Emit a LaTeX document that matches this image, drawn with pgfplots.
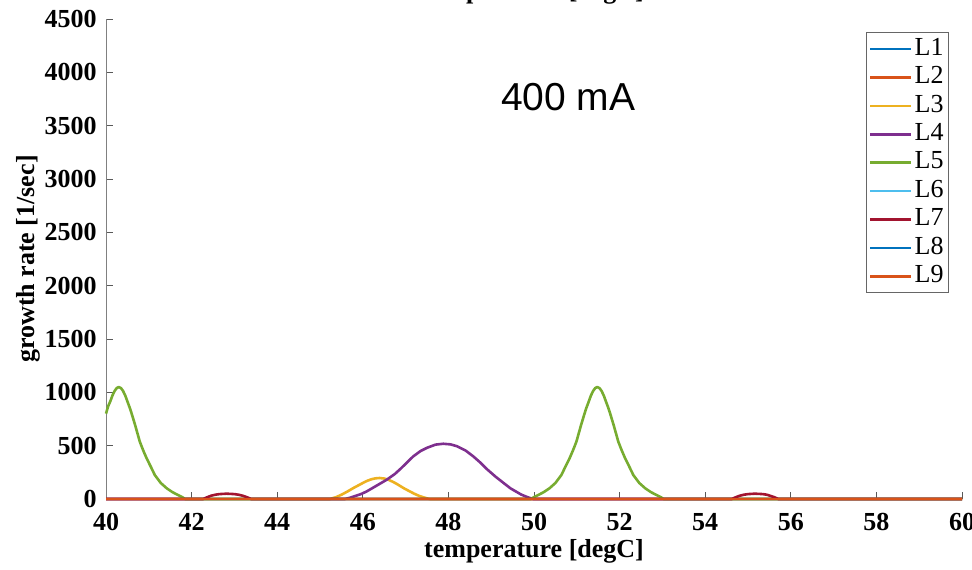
\documentclass[border=0pt]{standalone}
\usepackage{pgfplots}
\pgfplotsset{compat=1.18}
\usepackage{fontspec}
\setmainfont{Liberation Serif}
\newfontfamily\arialfont{Liberation Sans}

\definecolor{mA}{rgb}{0,0.447,0.741}
\definecolor{mB}{rgb}{0.85,0.325,0.098}
\definecolor{mC}{rgb}{0.929,0.694,0.125}
\definecolor{mD}{rgb}{0.494,0.184,0.556}
\definecolor{mE}{rgb}{0.466,0.674,0.188}
\definecolor{mF}{rgb}{0.301,0.745,0.933}
\definecolor{mG}{rgb}{0.635,0.078,0.184}

\begin{document}
\begin{tikzpicture}
\begin{axis}[
  at={(0pt,0pt)}, anchor=south west,
  width=428pt, height=240pt, scale only axis,
  xmin=40, xmax=60, ymin=0, ymax=4500,
  xtick={40,42,...,60},
  ytick={0,500,...,4500},
  axis x line*=bottom, axis y line*=left,
  axis line style={draw=black!50, -},
  tick align=inside,
  major tick length=3.5pt,
  tick style={black!65, line width=0.5pt},
  /pgf/number format/assume math mode=true,
  /pgf/number format/1000 sep={},
  tick label style={font=\fontsize{13}{15}\selectfont\bfseries},
  xticklabel style={anchor=base, yshift=-15.5pt},
  yticklabel style={anchor=east, inner sep=0pt, xshift=-4.5pt},
  label style={font=\fontsize{13}{15}\selectfont\bfseries},
  xlabel={temperature [degC]},
  xlabel style={at={(axis description cs:0.5,-0.121)}, anchor=base},
  ylabel={growth rate [1/sec]},
  ylabel style={at={(axis description cs:-0.091,0.5)}, anchor=center},
  title={temperature [degC]},
  title style={at={(axis description cs:0.5,1.018)}, anchor=base, yshift=0pt,
    font=\fontsize{13}{15}\selectfont\bfseries},
  clip=false,
  every axis plot/.append style={line width=1.3pt, line join=round},
  legend image code/.code={\draw[#1] (0pt,0pt) -- (20.5pt,0pt);},
  legend cell align=left,
  legend style={
    at={(axis description cs:0.9848,0.9729)}, anchor=north east,
    draw=black!60, line width=0.5pt, fill=white,
    inner xsep=1.5pt, inner ysep=1.2pt, row sep=0pt,
    font=\fontsize{13}{14.2}\selectfont,
    nodes={inner sep=1pt, text height=9.2pt, text depth=3pt}
  },
]
% L1
\addplot[mA] coordinates {(40,0) (60,0)};
% L2
\addplot[mB] coordinates {(40,0) (60,0)};
% L3
\addplot[mC] coordinates {(40,0) (45.23,0) (45.38,18) (45.5,40) (45.64,70) (45.78,103)
  (46.0,150) (46.1,170) (46.2,185) (46.3,194) (46.39,197) (46.5,192) (46.6,180)
  (46.7,162) (46.8,140) (46.95,103) (47.08,75) (47.2,50) (47.3,32) (47.4,18)
  (47.5,6) (47.57,0) (60,0)};
% L4
\addplot[mD] coordinates {(40,0) (45.58,0) (45.7,12) (45.8,25) (45.95,45) (46.09,71)
  (46.3,120) (46.56,181) (46.75,235) (46.9,290) (47.05,350) (47.18,400) (47.35,450)
  (47.5,480) (47.7,510) (47.88,518) (48.05,512) (48.2,495) (48.4,455) (48.58,400)
  (48.75,340) (48.9,280) (49.1,210) (49.29,150) (49.45,100) (49.6,65) (49.7,42)
  (49.8,25) (49.9,10) (49.98,0) (60,0)};
% L5
\addplot[mE] coordinates {(40,800) (40.05,870) (40.1,915) (40.15,970) (40.2,1012)
  (40.25,1040) (40.3,1050) (40.35,1040) (40.4,1012) (40.45,970) (40.5,915)
  (40.56,850) (40.6,800) (40.68,694) (40.79,537) (40.87,455) (40.95,381)
  (41.05,300) (41.14,225) (41.28,150) (41.42,100) (41.55,65) (41.65,44) (41.78,18)
  (41.85,0) (49.93,0) (50.0,18) (50.13,44) (50.23,65) (50.36,100) (50.5,150)
  (50.64,225) (50.73,300) (50.83,381) (50.91,455) (50.99,537) (51.1,694) (51.18,800)
  (51.22,850) (51.28,915) (51.33,970) (51.38,1012) (51.43,1040) (51.48,1050)
  (51.53,1040) (51.58,1012) (51.63,970) (51.68,915) (51.74,850) (51.78,800)
  (51.86,694) (51.97,537) (52.05,455) (52.13,381) (52.23,300) (52.32,225)
  (52.46,150) (52.6,100) (52.73,65) (52.83,44) (52.96,18) (53.03,0) (60,0)};
% L6
\addplot[mF] coordinates {(40,0) (60,0)};
% L7
\addplot[mG] coordinates {(40,0) (42.27,0) (42.36,16) (42.45,30) (42.55,40) (42.65,46)
  (42.82,50) (43.0,46) (43.1,40) (43.2,30) (43.3,16) (43.39,0) (54.62,0) (54.71,16)
  (54.8,30) (54.9,40) (55.0,46) (55.16,50) (55.35,46) (55.44,40) (55.52,30)
  (55.62,16) (55.71,0) (60,0)};
% L8
\addplot[mA] coordinates {(40,0) (60,0)};
% L9
\addplot[mB] coordinates {(40,0) (60,0)};
\legend{L1,L2,L3,L4,L5,L6,L7,L8,L9}
\node[font=\arialfont\fontsize{19.5}{22}\selectfont] at (axis cs:50.8,3770) {400 mA};
\end{axis}
\pgfresetboundingbox
\useasboundingbox (-53pt,-35pt) rectangle (433pt,249.5pt);
\end{tikzpicture}
\end{document}
